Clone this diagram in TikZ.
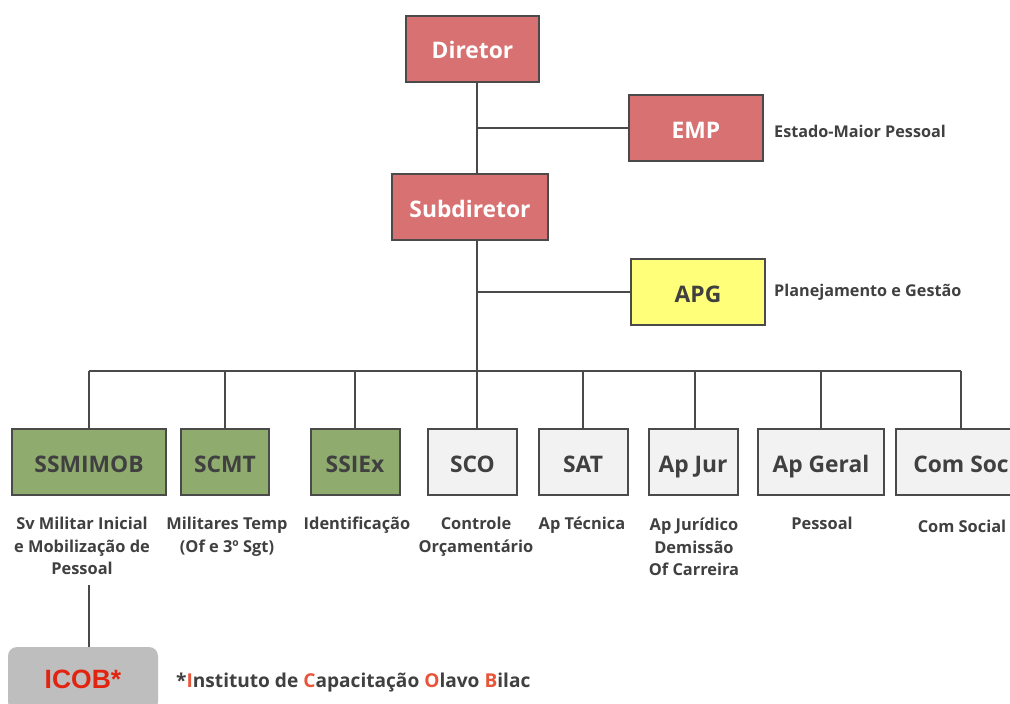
\documentclass[tikz,border=0pt]{standalone}
\usepackage{fontspec}
\setmainfont{Open Sans}
\newfontfamily\arialfont{Liberation Sans}
\definecolor{redfill}{HTML}{D87171}
\definecolor{yelfill}{HTML}{FFFF7A}
\definecolor{grnfill}{HTML}{8FAC6E}
\definecolor{gryfill}{HTML}{F2F2F2}
\definecolor{edge}{HTML}{4A4A4A}
\definecolor{dark}{HTML}{404040}
\definecolor{icobfill}{HTML}{BEBEBE}
\definecolor{icobred}{HTML}{E2230F}
\definecolor{notered}{HTML}{E8553A}
\begin{document}
\begin{tikzpicture}[x=1pt,y=-1pt,
  box/.style={draw=edge, line width=2pt, minimum height=66pt, inner sep=0pt,
    text height=25pt, text depth=5pt,
    font=\bfseries\fontsize{22.8}{26}\selectfont, text=dark},
  redbox/.style={box, fill=redfill, text=white},
  yelbox/.style={box, fill=yelfill},
  grnbox/.style={box, fill=grnfill},
  grybox/.style={box, fill=gryfill},
  desc/.style={font=\bfseries\fontsize{16.4}{22.5}\selectfont, text=dark, align=center, anchor=north, inner sep=0pt},
  side/.style={font=\bfseries\fontsize{16.2}{20}\selectfont, text=dark, anchor=west, inner sep=0pt},
  conn/.style={draw=edge, line width=1.6pt}]
\useasboundingbox (0,0) rectangle (1010,704);
\clip (0,0) rectangle (1010,704);
\fill[white] (0,0) rectangle (1010,704);

% top nodes
\node[redbox, minimum width=133pt] (Dir) at (472.5,48.5) {Diretor};
\node[redbox, minimum width=134pt] (EMP) at (696,128) {EMP};
\node[side] (EMPt) at (774,131) {Estado-Maior Pessoal};
\node[redbox, minimum width=156pt] (Sub) at (470,207) {Subdiretor};
\node[yelbox, minimum width=134pt] (APG) at (698,292) {APG};
\node[side] (APGt) at (774,292) {Planejamento e Gestão};

\coordinate (t) at (477,0);
\coordinate (bus) at (0,371);

% bottom nodes
\node[grnbox, minimum width=154pt] (B1) at (89,462) {SSMIMOB};
\node[grnbox, minimum width=88pt] (B2) at (225,462) {SCMT};
\node[grnbox, minimum width=89pt] (B3) at (355,462) {SSIEx};
\node[grybox, minimum width=89pt] (B4) at (472.5,462) {SCO};
\node[grybox, minimum width=89pt] (B5) at (583,462) {SAT};
\node[grybox, minimum width=89pt] (B6) at (693,462) {Ap Jur};
\node[grybox, minimum width=126pt] (B7) at (821,462) {Ap Geral};
\node[grybox, minimum width=130pt] (B8) at (961,462) {Com Soc};

% descriptions
\node[desc] (D1) at (82,517) {Sv Militar Inicial\\e Mobilização de\\Pessoal};
\node[desc] (D2) at (227,517) {Militares Temp\\(Of e 3º Sgt)};
\node[desc] (D3) at (357,517) {Identificação};
\node[desc] (D4) at (476,517) {Controle\\Orçamentário};
\node[desc] (D5) at (582,517) {Ap Técnica};
\node[desc] (D6) at (694,518) {Ap Jurídico\\Demissão\\Of Carreira};
\node[desc] (D7) at (822,517) {Pessoal};
\node[desc] (D8) at (962,520) {Com Social};

% ICOB
\node[fill=icobfill, rounded corners=9pt, minimum width=150pt, minimum height=64pt, inner sep=0pt,
  font=\arialfont\bfseries\fontsize{26.5}{30}\selectfont, text=icobred] (ICOB) at (83,679) {ICOB*};
\node[side, font=\bfseries\fontsize{19.1}{22}\selectfont] (note) at (176,683)
  {*\textcolor{notered}{I}nstituto de \textcolor{notered}{C}apacitação \textcolor{notered}{O}lavo \textcolor{notered}{B}ilac};

% connectors
\draw[conn] (Dir.south -| t) -- (Sub.north -| t);
\draw[conn] (t |- EMP.west) -- (EMP.west);
\draw[conn] (Sub.south -| t) -- (t |- bus);
\draw[conn] (t |- APG.west) -- (APG.west);
\draw[conn] (B1.north |- bus) -- (B8.north |- bus);
\foreach \b in {B1,B2,B3,B5,B7,B8} \draw[conn] (\b.north |- bus) -- (\b.north);
\draw[conn] (B4.north -| t) -- (t |- bus);
\draw[conn] ([xshift=2pt]B6.north) -- ([xshift=2pt]B6.north |- bus);
\draw[conn] (ICOB.north -| B1.north) -- ([yshift=-10pt]D1.south -| B1.north);
\end{tikzpicture}
\end{document}
